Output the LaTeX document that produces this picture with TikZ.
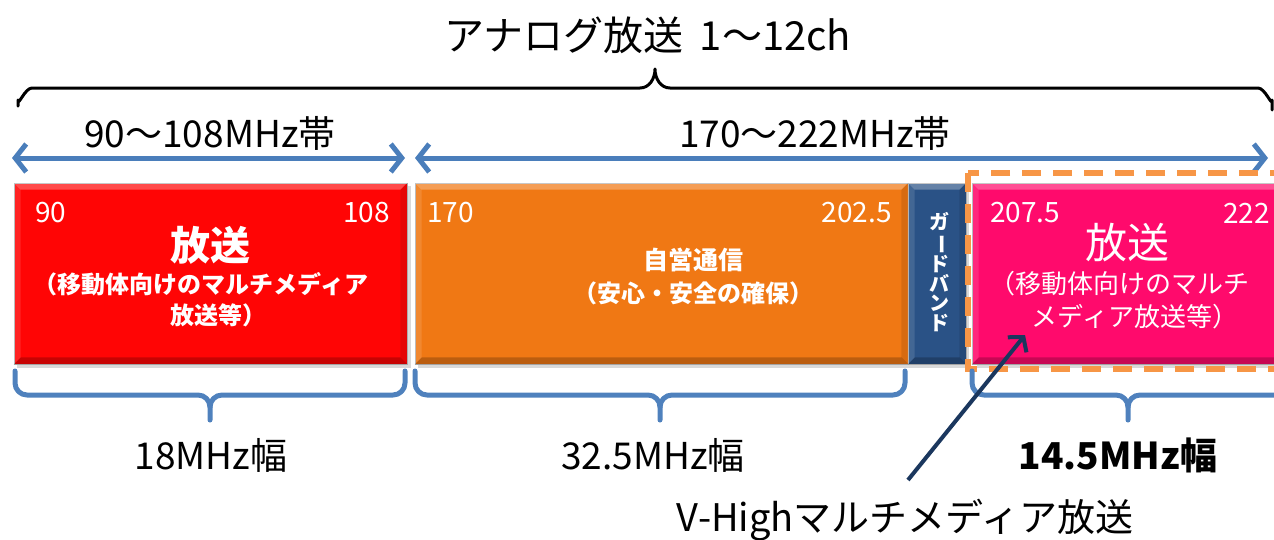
\documentclass[tikz,border=0pt]{standalone}
\usepackage{fontspec}
\setmainfont{Noto Sans CJK JP}
\usetikzlibrary{arrows.meta,calc}
\definecolor{bandblue}{HTML}{4A7EBB}
\definecolor{bracebl}{HTML}{4F81BD}
\definecolor{redbox}{HTML}{FF0505}
\definecolor{orangebox}{HTML}{F07814}
\definecolor{guardbox}{HTML}{2A5286}
\definecolor{pinkbox}{HTML}{FF0A6C}
\definecolor{dashor}{HTML}{F79646}
\definecolor{navyarr}{HTML}{1B375E}
\newcommand\fs[1]{\fontsize{#1}{#1}\selectfont}
\newcommand\bevelbox[1]{%
  \fill[white,opacity=.28] (#1.north west) -- (#1.north east) -- ([shift={(-7,7)}]#1.north east) -- ([shift={(7,7)}]#1.north west) -- cycle;
  \fill[black,opacity=.22] (#1.south west) -- (#1.south east) -- ([shift={(-7,-7)}]#1.south east) -- ([shift={(7,-7)}]#1.south west) -- cycle;
  \fill[black,opacity=.10] (#1.north east) -- (#1.south east) -- ([shift={(-7,-7)}]#1.south east) -- ([shift={(-7,7)}]#1.north east) -- cycle;
  \fill[white,opacity=.12] (#1.north west) -- (#1.south west) -- ([shift={(7,-7)}]#1.south west) -- ([shift={(7,7)}]#1.north west) -- cycle;
}
\tikzset{
  lbl/.style={inner sep=0pt, text=black},
  wlbl/.style={inner sep=0pt, text=white},
  band/.style={rectangle, inner sep=0pt, draw=black!30, line width=0.8pt},
  bandarrow/.style={draw=bandblue, line width=5pt, {Straight Barb[length=11pt,width=28pt]}-{Straight Barb[length=11pt,width=28pt]}},
  bluebrace/.style={draw=bracebl, line width=5pt, line cap=round, line join=round},
  blackbrace/.style={draw=black, line width=3pt, line cap=round, line join=round},
}
\begin{document}
\begin{tikzpicture}[x=1pt,y=-1pt]
\useasboundingbox (0,0) rectangle (1274,539);
\begin{scope}
\clip (0,0) rectangle (1274,539);

% title and black brace
\node[lbl,font=\fs{40}] (title) at (648,35) {アナログ放送\hspace{16pt}1～12ch};
\draw[blackbrace] (18,106) -- (18,100) to[out=-90,in=180] (32,88) -- (640,88)
   to[out=0,in=-90] (655,69) to[out=-90,in=180] (670,88) -- (1258,88)
   to[out=0,in=-90] (1272,100) -- (1272,110);

% band labels and arrows
\node[lbl,font=\fs{37}] (b1) at (210,133) {90～108MHz帯};
\node[lbl,font=\fs{37}] (b2) at (815,133) {170～222MHz帯};
\coordinate (a1l) at (12,158);
\coordinate (a1r) at (405,158);
\coordinate (a2l) at (415,158);
\coordinate (a2r) at (1268,158);
\draw[bandarrow] (a1l) -- (a1r);
\draw[bandarrow] (a2l) -- (a2r);

% shadows
\fill[black,opacity=.15] (17,186) rectangle (411,368);
\fill[black,opacity=.15] (418,186) rectangle (969,368);
\fill[black,opacity=.15] (977,186) rectangle (1290,368);

% boxes
\node[band, fill=redbox, minimum width=393, minimum height=181] (red) at (210.5,273.5) {};
\node[band, fill=orangebox, minimum width=493, minimum height=181] (orange) at (661.5,273.5) {};
\node[band, fill=guardbox, minimum width=58, minimum height=181] (guard) at (937,273.5) {};
\node[band, fill=pinkbox, minimum width=320, minimum height=181] (pink) at (1132,273.5) {};
\bevelbox{red}
\bevelbox{orange}
\bevelbox{guard}
\bevelbox{pink}

% red box texts
\node[wlbl,font=\fs{28},anchor=west] (r90) at (35,213) {90};
\node[wlbl,font=\fs{28},anchor=east] (r108) at (390,213) {108};
\node[wlbl,font=\fs{40}\bfseries] (rt1) at (210,245) {放送};
\node[wlbl,font=\fs{24}\bfseries] (rt2) at (201,284) {（移動体向けのマルチメディア};
\node[wlbl,font=\fs{24}\bfseries] (rt3) at (218,315) {放送等）};

% orange box texts
\node[wlbl,font=\fs{28},anchor=west] (o170) at (427,213) {170};
\node[wlbl,font=\fs{28},anchor=east] (o202) at (892,213) {202.5};
\node[wlbl,font=\fs{25}\bfseries] (ot1) at (693,260) {自営通信};
\node[wlbl,font=\fs{24}\bfseries] (ot2) at (693,293) {（安心・安全の確保）};

% guard band text (vertical)
\node[wlbl,font=\fontsize{20}{19.5}\selectfont\bfseries,align=center] (gt) at (939,272)
  {ガ\\\rotatebox[origin=c]{-90}{ー}\\ド\\バ\\ン\\ド};

% pink box texts
\node[wlbl,font=\fs{28},anchor=west] (p207) at (990,213) {207.5};
\node[wlbl,font=\fs{28},anchor=east] (p222) at (1270,213) {222};
\node[wlbl,font=\fs{42}] (pt1) at (1127,243) {放送};
\node[wlbl,font=\fs{26}] (pt2) at (1119,284) {（移動体向けのマルチ};
\node[wlbl,font=\fs{26}] (pt3) at (1135,317) {メディア放送等）};

% orange dashed frame
\draw[dashor, line width=6pt, dash pattern=on 19pt off 12pt] (968,173) rectangle (1320,369);

% bottom braces
\draw[bluebrace] (15,371) -- (15,383) to[out=-90,in=180] (27,395) -- (198,395)
   to[out=0,in=90] (210,407) -- (210,420);
\draw[bluebrace] (210,407) to[out=90,in=180] (222,395) -- (393,395)
   to[out=0,in=-90] (405,383) -- (405,371);
\draw[bluebrace] (415,371) -- (415,383) to[out=-90,in=180] (427,395) -- (648,395)
   to[out=0,in=90] (660,407) -- (660,420);
\draw[bluebrace] (660,407) to[out=90,in=180] (672,395) -- (893,395)
   to[out=0,in=-90] (905,383) -- (905,371);
\draw[bluebrace] (972,371) -- (972,383) to[out=-90,in=180] (984,395) -- (1116,395)
   to[out=0,in=90] (1128,407) -- (1128,420);
\draw[bluebrace] (1128,407) to[out=90,in=180] (1140,395) -- (1290,395);

% width labels
\node[lbl,font=\fs{37}] (w1) at (211,455) {18MHz幅};
\node[lbl,font=\fs{37}] (w2) at (653,455) {32.5MHz幅};
\node[lbl,font=\fs{37}\bfseries] (w3) at (1118,455) {14.5MHz幅};

% V-High label and arrow
\node[lbl,font=\fs{38}] (vh) at (905,520) {V-Highマルチメディア放送};
\coordinate (vtail) at (908,480);
\coordinate (vtip) at (1025,335);
\draw[navyarr, line width=4pt, -{Straight Barb[length=10pt,width=24pt]}] (vtail) -- (vtip);
\end{scope}
\end{tikzpicture}
\end{document}
